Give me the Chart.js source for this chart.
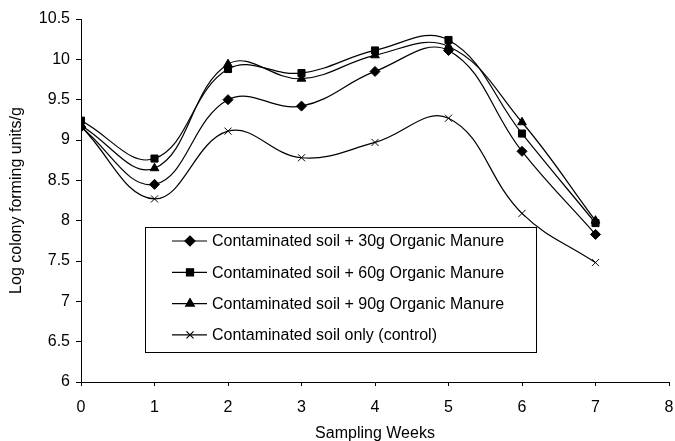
<!DOCTYPE html>
<html>
<head>
<meta charset="utf-8">
<script src="https://cdn.jsdelivr.net/npm/chart.js@4"></script>
<style>
  html, body { margin: 0; padding: 0; background: #ffffff; }
</style>
</head>
<body>
<canvas id="soilChart" width="675" height="441"></canvas>
<script>
// Sampling weeks (x axis)
const weeks = [0, 1, 2, 3, 4, 5, 6, 7];

// Log colony forming units/g for each treatment
const manure30 = [9.16, 8.45, 9.5, 9.42, 9.85, 10.11, 8.86, 7.83];
const manure60 = [9.24, 8.77, 9.88, 9.83, 10.11, 10.24, 9.08, 7.97];
const manure90 = [9.18, 8.65, 9.94, 9.76, 10.05, 10.16, 9.22, 8.0];
const control = [9.17, 8.27, 9.11, 8.78, 8.97, 9.27, 8.09, 7.48];

const seriesLabels = [
  "Contaminated soil + 30g Organic Manure",
  "Contaminated soil + 60g Organic Manure",
  "Contaminated soil + 90g Organic Manure",
  "Contaminated soil only (control)",
];

const FONT = "'Liberation Sans', Arial, sans-serif";

function toPoints(values) {
  return weeks.map((w, i) => ({ x: w, y: values[i] }));
}

function makeSeries(label, values, style, radius) {
  return {
    label: label,
    data: toPoints(values),
    borderColor: "#000000",
    backgroundColor: "#000000",
    borderWidth: 1.2,
    pointStyle: style,
    pointRadius: radius,
    pointBorderWidth: 1,
    pointBorderColor: "#000000",
    pointBackgroundColor: "#000000",
    fill: false,
    tension: 0.4,
  };
}

// legend drawn as a boxed panel inside the plot, like the original figure
const boxedLegend = {
  id: "boxedLegend",
  afterDraw(chart) {
    const ctx = chart.ctx;
    const left = 145, top = 227, width = 391, height = 125;
    ctx.save();
    ctx.fillStyle = "#ffffff";
    ctx.fillRect(left, top, width, height);
    ctx.strokeStyle = "#000000";
    ctx.lineWidth = 1;
    ctx.strokeRect(left + 0.5, top + 0.5, width, height);

    ctx.font = "16px " + FONT;
    ctx.textBaseline = "middle";
    chart.data.datasets.forEach((ds, i) => {
      const y = 241 + i * 31.3;
      ctx.strokeStyle = "#000000";
      ctx.fillStyle = "#000000";
      ctx.lineWidth = 1.2;
      ctx.beginPath();
      ctx.moveTo(172, y);
      ctx.lineTo(207, y);
      ctx.stroke();
      Chart.helpers.drawPoint(ctx, {
        pointStyle: ds.pointStyle,
        radius: ds.pointRadius,
        borderWidth: 1,
      }, 190, y);
      ctx.fillText(ds.label, 212, y + 1);
    });
    ctx.restore();
  },
};

const ctx = document.getElementById("soilChart").getContext("2d");

new Chart(ctx, {
  type: "line",
  data: {
    datasets: [
      makeSeries(seriesLabels[0], manure30, "rectRot", 5),
      makeSeries(seriesLabels[1], manure60, "rect", 5),
      makeSeries(seriesLabels[2], manure90, "triangle", 5),
      makeSeries(seriesLabels[3], control, "crossRot", 5),
    ],
  },
  options: {
    responsive: false,
    animation: false,
    layout: {
      padding: { top: 19, right: 6, bottom: 0, left: 0 },
    },
    plugins: {
      legend: { display: false },
      tooltip: { enabled: false },
    },
    scales: {
      x: {
        type: "linear",
        min: 0,
        max: 8,
        afterFit(scale) {
          scale.height = 59;
          scale.paddingLeft = 0;
          scale.paddingRight = 0;
        },
        ticks: {
          stepSize: 1,
          maxRotation: 0,
          color: "#000000",
          font: { family: FONT, size: 16 },
          padding: 12,
        },
        grid: {
          drawOnChartArea: false,
          color: "#000000",
          tickLength: 4,
        },
        border: { color: "#000000", width: 1 },
        title: {
          display: true,
          text: "Sampling Weeks",
          color: "#000000",
          font: { family: FONT, size: 16 },
          padding: { top: 0, bottom: -2 },
        },
      },
      y: {
        min: 6,
        max: 10.5,
        afterFit(scale) { scale.width = 81; },
        ticks: {
          stepSize: 0.5,
          color: "#000000",
          font: { family: FONT, size: 16 },
          padding: 6,
          callback: (v) => String(v),
        },
        grid: {
          drawOnChartArea: false,
          color: "#000000",
          tickLength: 5,
        },
        border: { color: "#000000", width: 1 },
        title: {
          display: true,
          text: "Log colony forming units/g",
          color: "#000000",
          font: { family: FONT, size: 16 },
          padding: { top: 7, bottom: 0 },
        },
      },
    },
  },
  plugins: [boxedLegend],
});
</script>
</body>
</html>
